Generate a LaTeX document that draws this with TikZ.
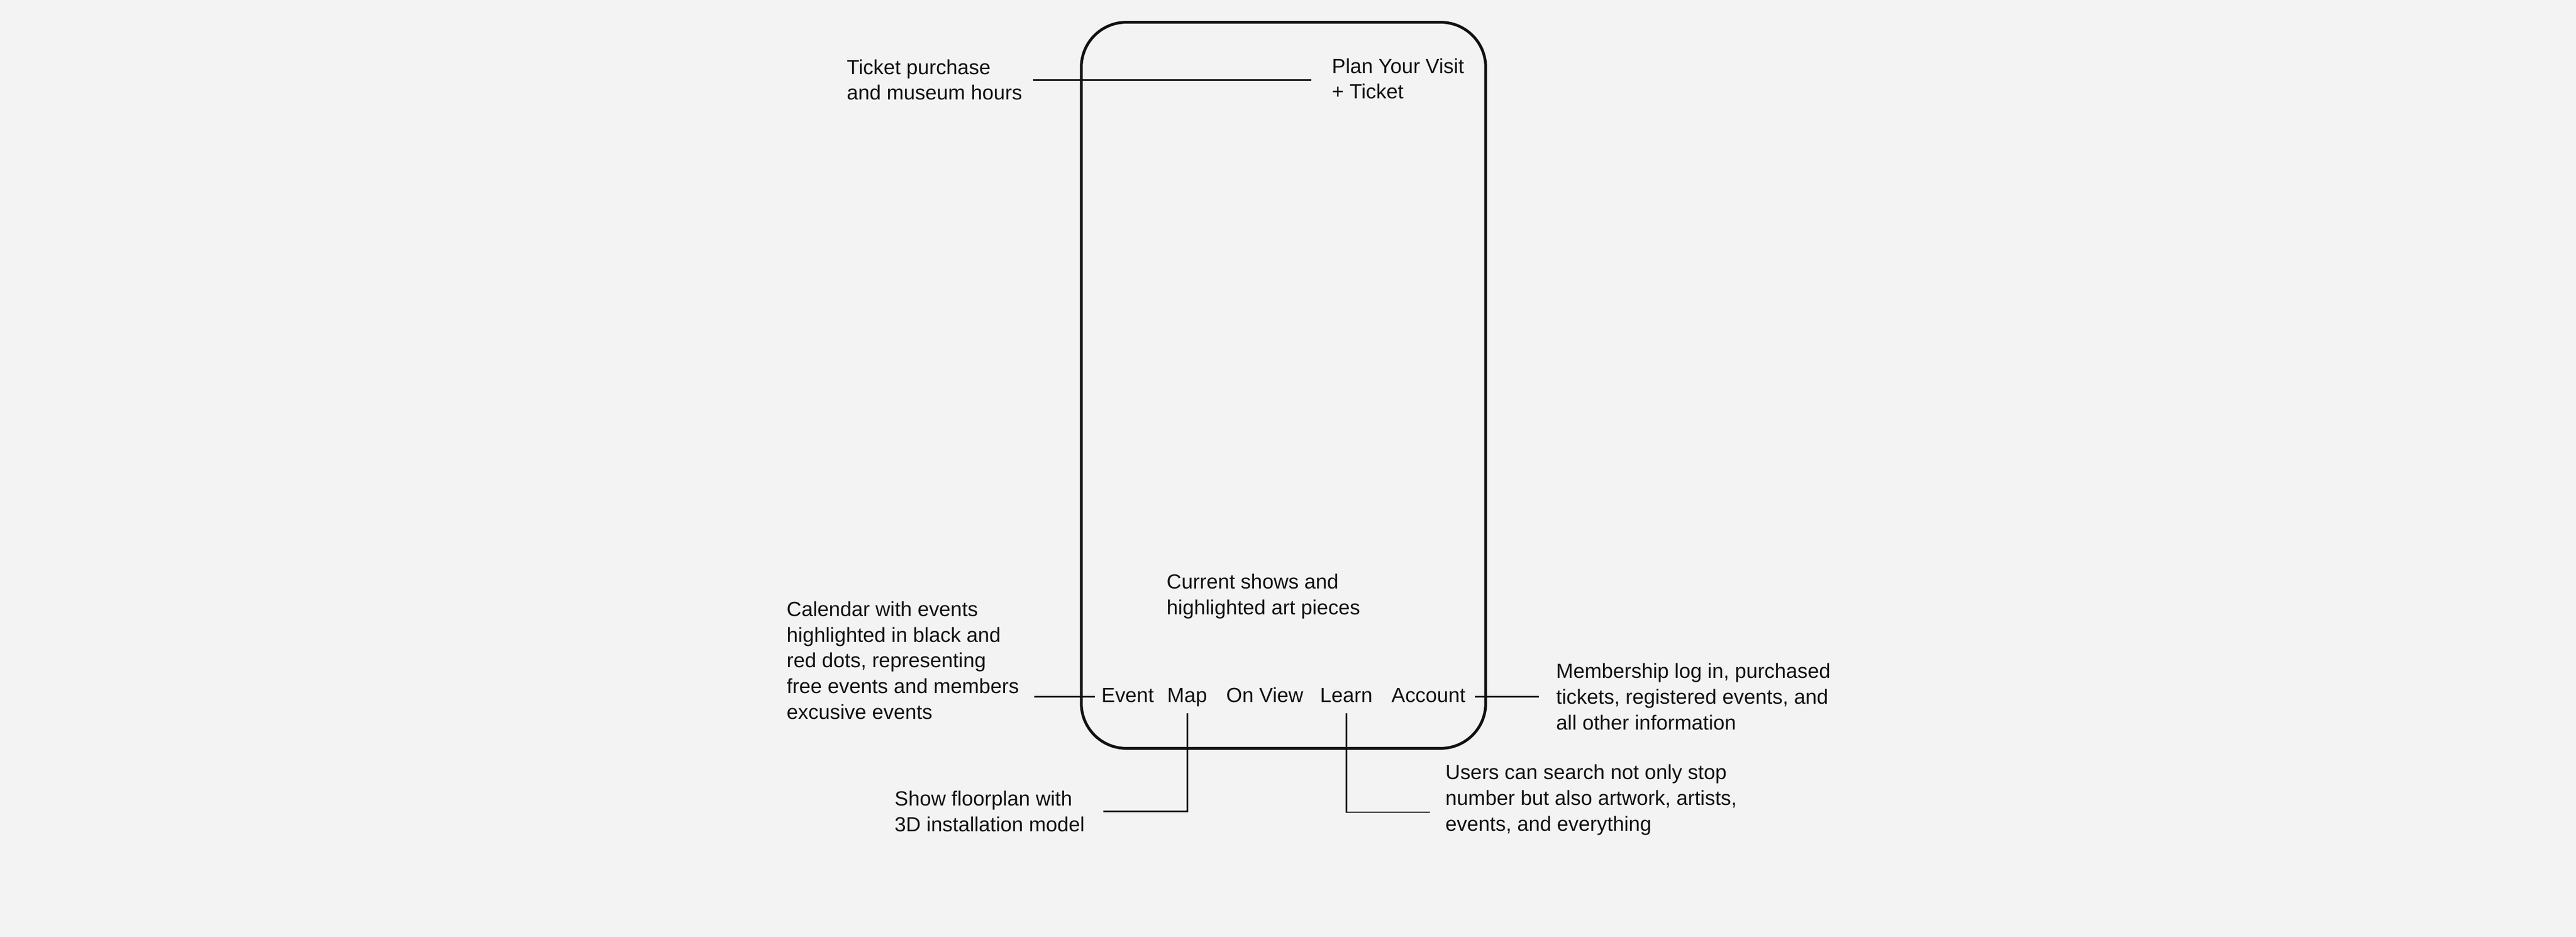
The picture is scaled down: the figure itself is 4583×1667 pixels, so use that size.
\documentclass[tikz,border=0pt]{standalone}
\usepackage{fontspec}
\setmainfont{Liberation Sans}
\definecolor{paper}{HTML}{F3F3F3}
\definecolor{ink}{HTML}{111111}

\begin{document}
\begin{tikzpicture}[
        x=0.01cm, y=-0.01cm, ink,
        every node/.style={inner sep=0, text=ink, font=\fontsize{10.36pt}{12.95pt}\selectfont},
        note/.style={align=left, anchor=base west},
        tab/.style={anchor=base west, text height=0.72em, text depth=0.2em},
        lead/.style={line width=0.8pt},
        phone/.style={draw, line width=1.42pt, rounded corners=0.8cm, minimum width=7.19cm, minimum height=12.91cm},
        ]
  \fill[paper] (0,0) rectangle (4583,1667);
  \node[phone] (phone) at (2283.5,685.5) {};

  % notes (placed at the baseline of their last line)
  \node[note] (ticket) at (1506,178) {Ticket purchase\\and museum hours};
  \node[note] (plan) at (2369,176) {Plan Your Visit\\+ Ticket};
  \node[note] (current) at (2075,1093) {Current shows and\\highlighted art pieces};
  \node[note] (calendar) at (1399,1279) {Calendar with events\\highlighted in black and\\red dots, representing\\free events and members\\excusive events};
  \node[note] (member) at (2768,1298) {Membership log in, purchased\\tickets, registered events, and\\all other information};
  \node[note] (users) at (2571,1478) {Users can search not only stop\\number but also artwork, artists,\\events, and everything};
  \node[note] (floorplan) at (1591,1479) {Show floorplan with\\3D installation model};

  % tab bar
  \node[tab] (event) at (1959,1249) {Event};
  \node[tab] (map) at (2076,1249) {Map};
  \node[tab] (onview) at (2181,1249) {On View};
  \node[tab] (learn) at (2348,1249) {Learn};
  \node[tab] (account) at (2475,1249) {Account};

  \draw[lead, shorten <=0.19cm, shorten >=0.36cm] (ticket.east) -- (ticket.east -| plan.west);
  \draw[lead, shorten <=0.11cm, shorten >=0.26cm] (event.west) -- (event.west -| calendar.east);
  \draw[lead, shorten <=0.16cm, shorten >=0.30cm] (account.east) -- (account.east -| member.west);
  \draw[lead, shorten <=0.12cm, shorten >=0.32cm] (map.south) |- (floorplan.east);
  \draw[lead, shorten <=0.12cm, shorten >=0.27cm] (learn.south) |- ([yshift=-0.22cm]users.west);
\end{tikzpicture}
\end{document}
